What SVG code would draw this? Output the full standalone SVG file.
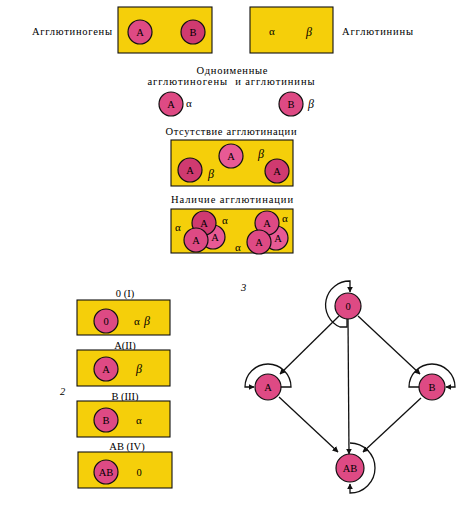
<svg xmlns="http://www.w3.org/2000/svg" width="464" height="508" viewBox="0 0 464 508">
<defs>
<style>
.box{fill:#f5cf0a;stroke:#111;stroke-width:1.1}
.cell{fill:#de4a84;stroke:#111;stroke-width:1.2}
.cell2{fill:#cf3a70;stroke:#111;stroke-width:1.2}
.cell3{fill:#e85a95;stroke:#111;stroke-width:1.2}
.t{font-family:"Liberation Serif","DejaVu Serif",serif;font-size:10.5px;fill:#000}
.c{font-family:"Liberation Serif","DejaVu Serif",serif;font-size:10.5px;fill:#000;text-anchor:middle}
.g{font-family:"Liberation Serif","DejaVu Serif",serif;font-size:11px;fill:#000;text-anchor:middle}
.gi{font-family:"Liberation Serif","DejaVu Serif",serif;font-size:12px;font-style:italic;fill:#000;text-anchor:middle}
.edge{fill:none;stroke:#111;stroke-width:1.3}
</style>
<marker id="ah" viewBox="0 0 10 10" refX="9" refY="5" markerWidth="6" markerHeight="6" markerUnits="userSpaceOnUse" orient="auto">
<path d="M0,0 L10,5 L0,10 z" fill="#111"/>
</marker>
</defs>

<g id="top-antigens">
<text class="t" x="32" y="35" textLength="80" lengthAdjust="spacing">Агглютиногены</text>
<rect class="box" x="118" y="7" width="94" height="46"/>
<circle class="cell" cx="140" cy="32" r="12"/><text class="c" x="140" y="36">A</text>
<circle class="cell2" cx="193" cy="32" r="12"/><text class="c" x="193" y="36">B</text>
</g>
<g id="top-antibodies">
<rect class="box" x="250" y="7" width="83" height="46"/>
<text class="g" x="272" y="35">α</text>
<text class="gi" x="309" y="36">β</text>
<text class="t" x="342" y="35" textLength="71" lengthAdjust="spacing">Агглютинины</text>
</g>

<g id="same-named">
<text class="c" x="232" y="74" textLength="71" lengthAdjust="spacing">Одноименные</text>
<text class="c" x="231" y="85" textLength="167" lengthAdjust="spacing" xml:space="preserve">агглютиногены  и агглютинины</text>
<circle class="cell" cx="171" cy="104" r="12"/><text class="c" x="171" y="108">A</text>
<text class="g" x="189" y="107">α</text>
<circle class="cell" cx="291" cy="104" r="12"/><text class="c" x="291" y="108">B</text>
<text class="gi" x="311" y="108">β</text>
</g>

<g id="no-agglutination">
<text class="c" x="231" y="135" textLength="131" lengthAdjust="spacing">Отсутствие агглютинации</text>
<rect class="box" x="171" y="140" width="122" height="46"/>
<circle class="cell2" cx="190" cy="170" r="12"/><text class="c" x="190" y="174">A</text>
<circle class="cell3" cx="231" cy="156" r="12"/><text class="c" x="231" y="160">A</text>
<circle class="cell2" cx="277" cy="171" r="12"/><text class="c" x="277" y="175">A</text>
<text class="gi" x="211" y="178">β</text>
<text class="gi" x="261" y="158">β</text>
</g>

<g id="agglutination">
<text class="c" x="232" y="203" textLength="122" lengthAdjust="spacing">Наличие агглютинации</text>
<rect class="box" x="171" y="209" width="122" height="44"/>
<circle class="cell3" cx="213" cy="237" r="12"/><text class="c" x="215" y="241">A</text>
<circle class="cell2" cx="204" cy="223" r="12"/><text class="c" x="204" y="227">A</text>
<circle class="cell" cx="196" cy="240" r="12"/><text class="c" x="196" y="244">A</text>
<circle class="cell3" cx="276" cy="238" r="12"/><text class="c" x="278" y="242">A</text>
<circle class="cell" cx="267" cy="223" r="12"/><text class="c" x="267" y="227">A</text>
<circle class="cell" cx="259" cy="242" r="12"/><text class="c" x="259" y="246">A</text>
<text class="g" x="178" y="231">α</text>
<text class="g" x="225" y="224">α</text>
<text class="g" x="238" y="251">α</text>
<text class="g" x="285" y="222">α</text>
</g>

<g id="group-0">
<text class="c" x="125" y="297">0 (I)</text>
<rect class="box" x="77" y="300" width="93" height="35"/>
<circle class="cell" cx="106" cy="321" r="12"/><text class="c" x="106" y="325">0</text>
<text class="g" x="137" y="325">α</text><text class="gi" x="147" y="325">β</text>
</g>
<g id="group-A">
<text class="c" x="125" y="349">A(II)</text>
<rect class="box" x="77" y="350" width="93" height="36"/>
<circle class="cell" cx="106" cy="369" r="12"/><text class="c" x="106" y="373">A</text>
<text class="gi" x="139" y="373">β</text>
</g>
<text class="t" x="60" y="395" font-style="italic">2</text>
<g id="group-B">
<text class="c" x="125" y="400">B (III)</text>
<rect class="box" x="77" y="401" width="93" height="36"/>
<circle class="cell" cx="106" cy="420" r="12"/><text class="c" x="106" y="424">B</text>
<text class="g" x="139" y="424">α</text>
</g>
<g id="group-AB">
<text class="c" x="127" y="450">AB (IV)</text>
<rect class="box" x="78" y="452" width="94" height="36"/>
<circle class="cell" cx="106" cy="472" r="12"/><text class="c" x="106" y="476">AB</text>
<text class="c" x="139" y="476">0</text>
</g>

<text class="t" x="241" y="291" font-style="italic">3</text>
<g id="connectors">
<path class="edge" d="M339,316 L280,374" marker-end="url(#ah)"/>
<path class="edge" d="M358,316 L420,374" marker-end="url(#ah)"/>
<path class="edge" d="M348,319 L349,454" marker-end="url(#ah)"/>
<path class="edge" d="M279,397 L338,452" marker-end="url(#ah)"/>
<path class="edge" d="M421,398 L363,452" marker-end="url(#ah)"/>
<path class="edge" d="M347,318 L347,327 L340,327 A24,24 0 0,1 350,281 L350,292" marker-end="url(#ah)"/>
<path class="edge" d="M281,387 L291,387 A23,23 0 0,0 245,387 L254,387" marker-end="url(#ah)"/>
<path class="edge" d="M419,387 L409,387 A23,23 0 0,1 455,387 L446,387" marker-end="url(#ah)"/>
<path class="edge" d="M350,443 A25,25 0 0,1 350,493 L350,484" marker-end="url(#ah)"/>
</g>
<g id="node-0"><circle class="cell" cx="348" cy="306" r="13"/><text class="c" x="348" y="310">0</text></g>
<g id="node-A"><circle class="cell" cx="268" cy="387" r="13"/><text class="c" x="268" y="391">A</text></g>
<g id="node-B"><circle class="cell" cx="432" cy="387" r="13"/><text class="c" x="432" y="391">B</text></g>
<g id="node-AB"><circle class="cell" cx="350" cy="468" r="14"/><text class="c" x="350" y="472">AB</text></g>
</svg>
